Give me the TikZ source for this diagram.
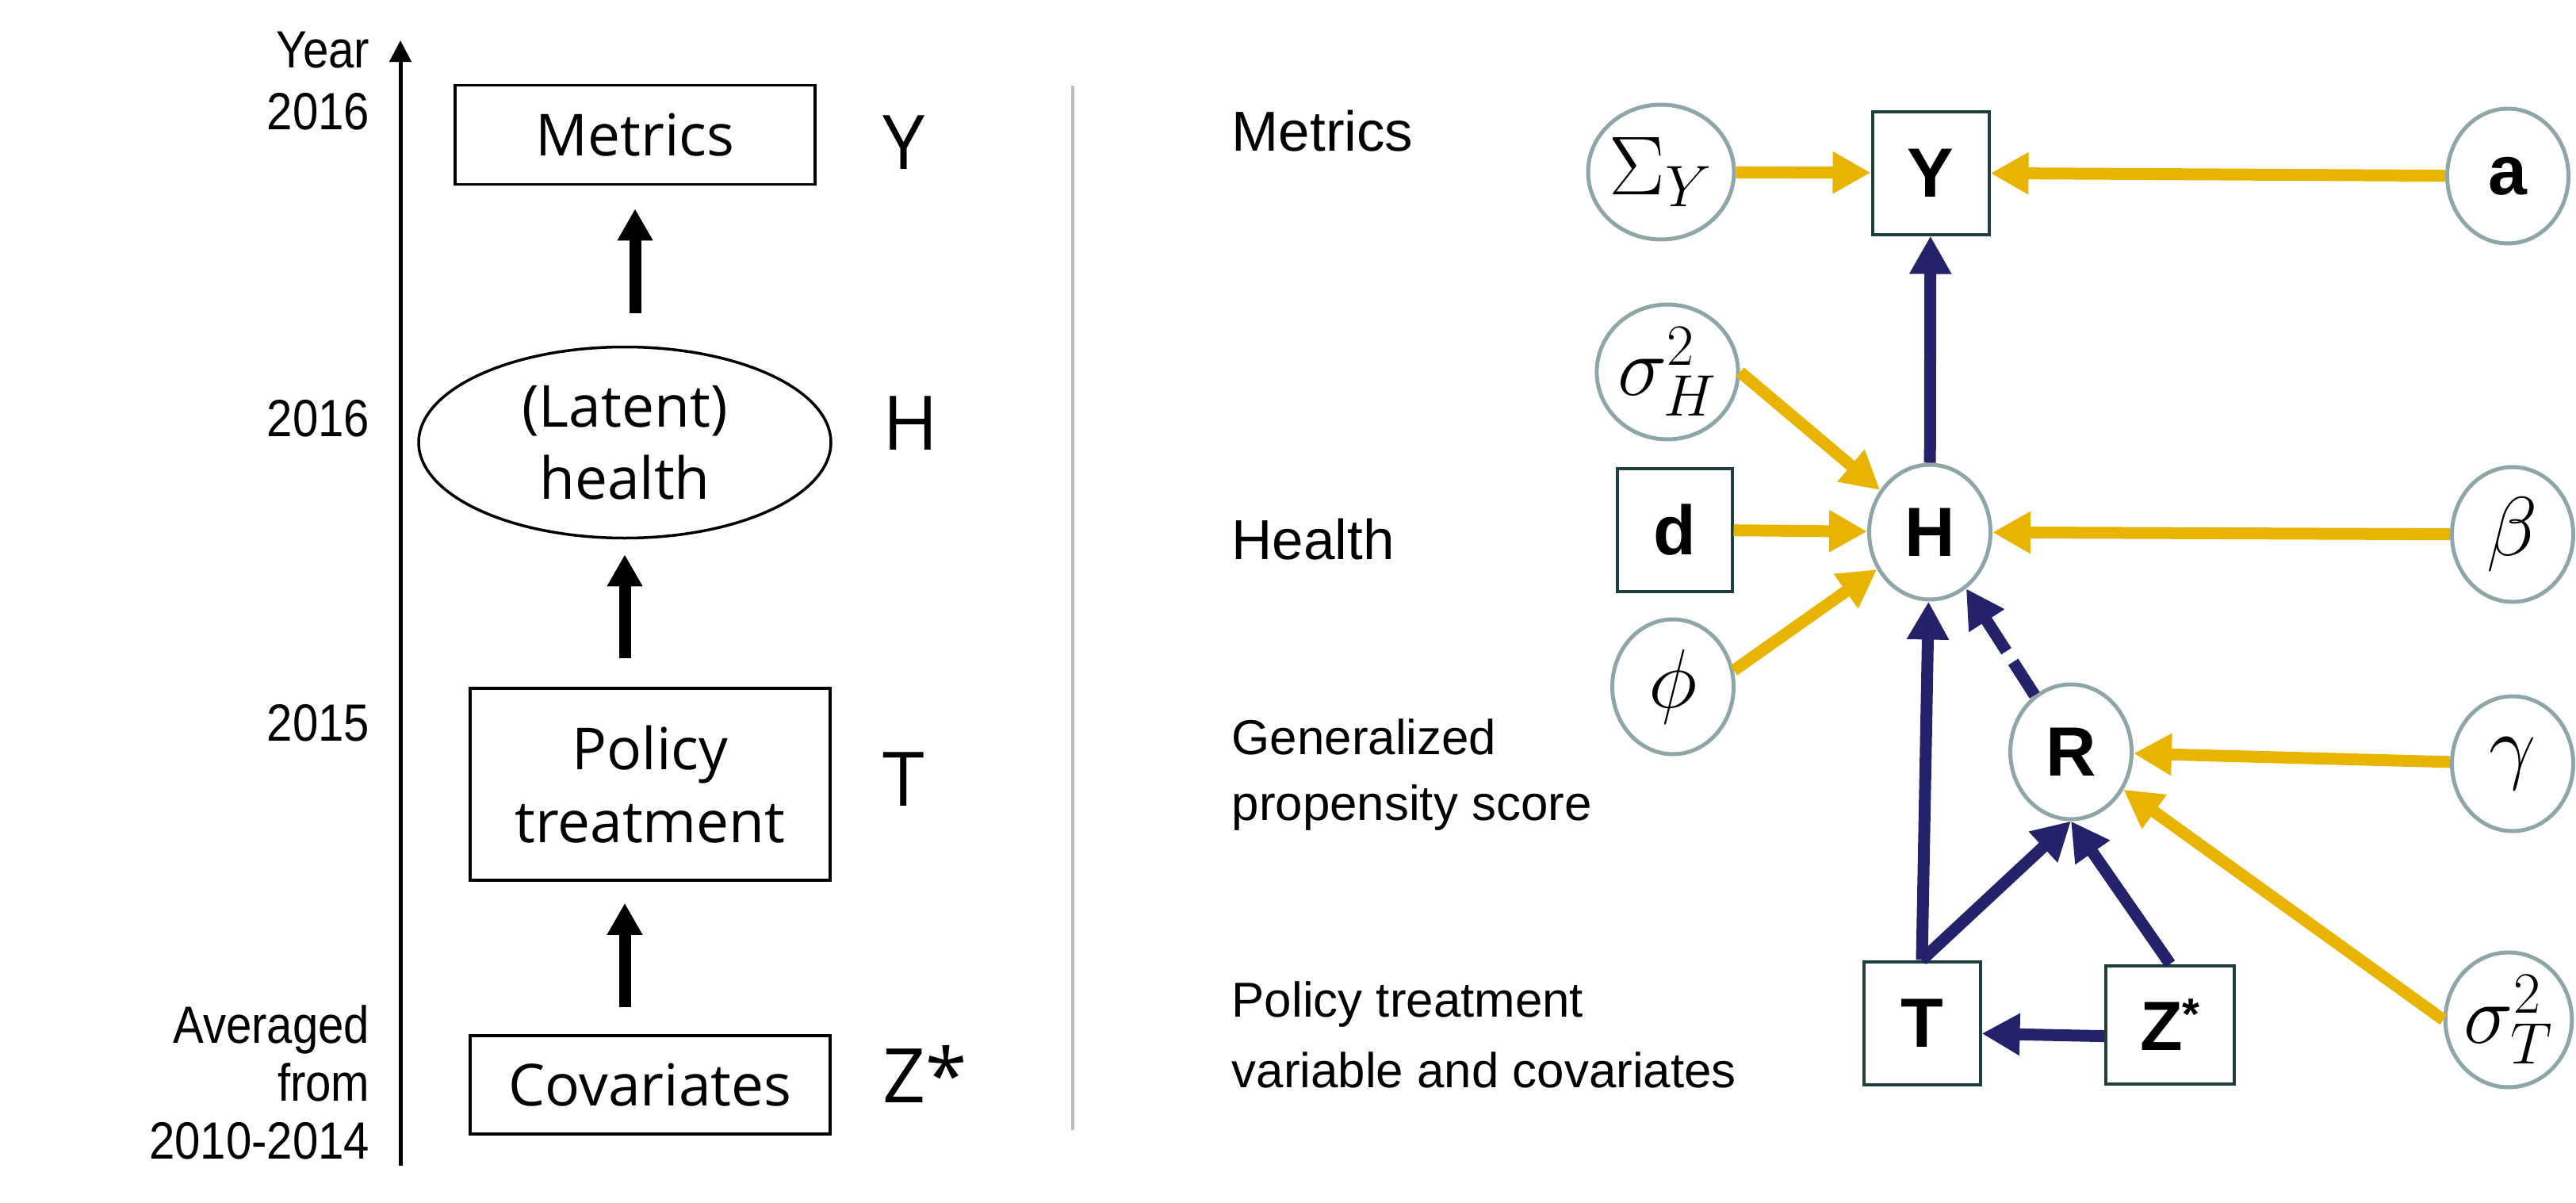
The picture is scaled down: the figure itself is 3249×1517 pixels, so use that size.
\RequirePackage{fix-cm}
\documentclass[tikz,border=0pt]{standalone}
\usepackage{fontspec}
\setmainfont{Liberation Sans}
\newfontfamily\narrowfont[FakeStretch=0.88]{Liberation Sans}
\newfontfamily\boxfont{Open Sans}
\usetikzlibrary{arrows.meta,shapes.geometric}

\definecolor{gold}{RGB}{233,180,0}
\definecolor{navy}{RGB}{36,34,106}
\definecolor{ringgray}{RGB}{143,166,168}
\definecolor{boxteal}{RGB}{30,62,64}
\definecolor{sepgray}{RGB}{190,190,190}

\begin{document}
\begin{tikzpicture}[x=0.1mm,y=-0.1mm]
   \tikzset{
      yearlbl/.style={font=\narrowfont\fontsize{18.8}{22.2}\selectfont, align=right, inner sep=0pt},
      stagebox/.style={draw, line width=0.35mm, minimum width=45.4mm, inner sep=0pt,
         font=\boxfont\fontsize{20.8}{26}\selectfont, align=center},
      stagevar/.style={font=\boxfont\fontsize{27}{30}\selectfont, inner sep=0pt, anchor=base west},
      bigarrow/.style={line width=1.5mm, -{Triangle[length=4mm,width=4.2mm]}},
      rowlbl/.style={font=\fontsize{17.6}{25}\selectfont, align=left, inner sep=0pt},
      param/.style={ellipse, draw=ringgray, line width=0.5mm, minimum width=15.3mm,
         minimum height=17mm, inner sep=0pt, font=\fontsize{25}{30}\selectfont\bfseries},
      mathparam/.style={param, font=\fontsize{30}{34}\selectfont},
      obs/.style={rectangle, draw=boxteal, line width=0.4mm, minimum width=14.7mm,
         minimum height=15.5mm, inner sep=0pt, font=\fontsize{25}{30}\selectfont\bfseries},
      goldarr/.style={gold, line width=1.5mm, -{Triangle[length=4.8mm,width=5mm]}},
      navyarr/.style={navy, line width=1.5mm, -{Triangle[length=4.8mm,width=5mm]}}
   }
   \useasboundingbox (0,0) rectangle (3249,1517);

   % time line
   \coordinate (axbot) at (505,1470);
   \coordinate (axtop) at (505,51);
   \draw[line width=0.5mm, -{Triangle[length=2.7mm,width=2.7mm]}] (axbot) -- (axtop);

   \node[yearlbl, anchor=east] (yr) at (467,102) {Year\\2016};
   \node[yearlbl, anchor=base east] (y16) at (467,550) {2016};
   \node[yearlbl, anchor=base east] (y15) at (467,934) {2015};
   \node[yearlbl, anchor=east, font=\narrowfont\fontsize{18.8}{20.8}\selectfont] (yavg) at (467,1365) {Averaged\\from\\2010-2014};

   \node[stagebox, minimum height=12.5mm] (met) at (801,170) {Metrics};
   \node[stagebox, ellipse, minimum width=52mm, minimum height=24.1mm] (lat) at (788,558) {(Latent)\\health};
   \node[stagebox, minimum height=24.2mm] (pol) at (820,989) {Policy\\treatment};
   \node[stagebox, minimum height=12.4mm] (cov) at (820,1368) {Covariates};

   \node[stagevar] (vy) at (1113,213) {Y};
   \node[stagevar] (vh) at (1113,567) {H};
   \node[stagevar] (vt) at (1113,1016) {T};
   \node[stagevar] (vz) at (1113,1390) {Z*};

   \draw[bigarrow, shorten <=4.1mm, shorten >=2.9mm] (lat.north -| met.south) -- (met.south);
   \draw[bigarrow, shorten <=3.6mm, shorten >=1.9mm] (pol.north -| lat.south) -- (lat.south);
   \draw[bigarrow, shorten <=3.4mm, shorten >=2.7mm] (cov.north -| lat.south) -- (pol.south -| lat.south);

   % separator
   \coordinate (septop) at (1353,108);
   \coordinate (sepbot) at (1353,1425);
   \draw[sepgray, line width=0.4mm] (septop) -- (sepbot);

   % model
   \node[rowlbl, anchor=base west, font=\fontsize{20.2}{24}\selectfont] (lmet) at (1553,190) {Metrics};
   \node[rowlbl, anchor=base west, font=\fontsize{20.2}{24}\selectfont] (lhea) at (1553,705) {Health};
   \node[rowlbl, anchor=west, font=\fontsize{17.6}{23.9}\selectfont] (lgps) at (1553,977) {Generalized\\propensity score};
   \node[rowlbl, anchor=west, font=\fontsize{17.6}{25.3}\selectfont] (lptc) at (1553,1305) {Policy treatment\\variable and covariates};

   \node[mathparam] (SY) at (2095,217) {$\Sigma_Y$};
   \node[obs] (Y) at (2435,218) {Y};
   \node[param] (a) at (3163,222) {a};
   \node[mathparam] (sH) at (2103,469) {$\sigma_H^2$};
   \node[obs, minimum width=14.5mm] (d) at (2112,668) {d};
   \node[param] (H) at (2434,671) {H};
   \node[mathparam] (b) at (3169,674) {$\beta$};
   \node[mathparam] (phi) at (2110,866) {$\phi$};
   \node[param] (R) at (2612,948) {R};
   \node[mathparam] (g) at (3169,963) {$\gamma$};
   \node[mathparam] (sT) at (3164,1286) {$\sigma_T^2$};
   \node[obs] (T) at (2424,1290) {T};
   \node[obs, minimum width=16.2mm, minimum height=14.9mm] (Zs) at (2737,1292) {Z\raisebox{0.3em}{\fontsize{16}{16}\selectfont*}};

   \draw[goldarr] (SY) -- (Y);
   \draw[goldarr] (a) -- (Y);
   \draw[goldarr] (sH.east) -- (H);
   \draw[goldarr] (d) -- (H);
   \draw[goldarr] (b) -- (H);
   \draw[goldarr] (phi.15) -- (H);
   \draw[goldarr] (g) -- (R);
   \draw[goldarr] (sT.west) -- (R);

   \draw[navyarr] (H) -- (Y);
   \draw[navyarr] (T.north) -- (H);
   \draw[navyarr] (T.north) -- (R.south);
   \draw[navyarr] (Zs.north) -- (R.south);
   \draw[navyarr, dash pattern=on 5mm off 1.6mm] (R) -- (H);
   \draw[navyarr] (Zs.190) -- (T.-10);
\end{tikzpicture}
\end{document}
